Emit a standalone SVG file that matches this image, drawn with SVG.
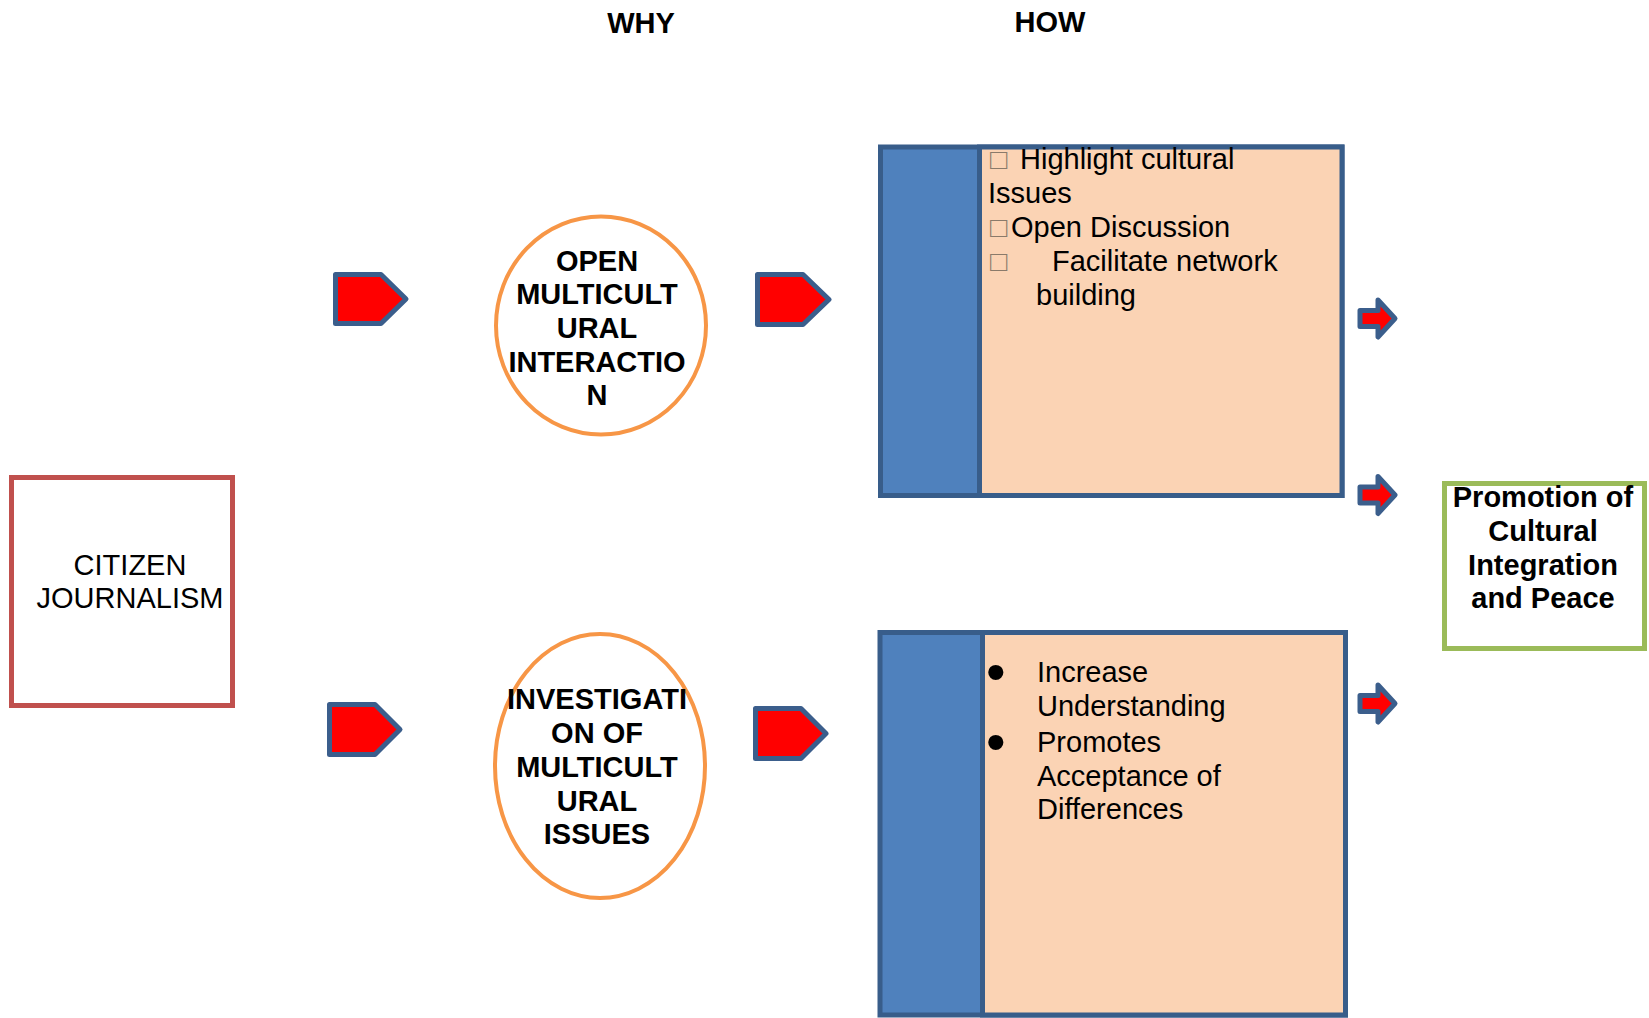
<svg xmlns="http://www.w3.org/2000/svg" width="1649" height="1018" viewBox="0 0 1649 1018">
<style>
text{font-family:"Liberation Sans",Arial,sans-serif;fill:#000}
.t{font-size:29px}
.b{font-size:29px;font-weight:bold}
.h{font-size:29px;font-weight:bold}
.c{text-anchor:middle}
.bul{font-size:56px}
.tofu{fill:#8a7a6a}
.pent{fill:#ff0000;stroke:#3b5e8c;stroke-width:5;stroke-linejoin:round}
.arr{fill:#ff0000;stroke:#3b5e8c;stroke-width:5;stroke-linejoin:round}
.blue{fill:#4f81bd;stroke:#385d8a;stroke-width:5}
.peach{fill:#fbd3b4;stroke:#385d8a;stroke-width:5}
.oval{fill:#fff;stroke:#f79646;stroke-width:4}
</style>
<rect width="1649" height="1018" fill="#fff"/>
<g id="headers">
<text class="h c" x="641" y="33">WHY</text>
<text class="h c" x="1050" y="32">HOW</text>
</g>
<g id="citizen-journalism">
<rect x="11.5" y="477.5" width="221" height="228" fill="#fff" stroke="#c0504d" stroke-width="5"/>
<text class="t c" x="130" y="575">CITIZEN</text>
<text class="t c" x="130" y="608">JOURNALISM</text>
</g>
<g id="open-multicultural">
<ellipse class="oval" cx="601" cy="325.5" rx="105" ry="109"/>
<text class="b c" x="597" y="271">OPEN</text>
<text class="b c" x="597" y="304">MULTICULT</text>
<text class="b c" x="597" y="338">URAL</text>
<text class="b c" x="597" y="372">INTERACTIO</text>
<text class="b c" x="597" y="405">N</text>
</g>
<g id="investigation">
<ellipse class="oval" cx="600" cy="766" rx="105" ry="132"/>
<text class="b c" x="597" y="709">INVESTIGATI</text>
<text class="b c" x="597" y="743">ON OF</text>
<text class="b c" x="597" y="777">MULTICULT</text>
<text class="b c" x="597" y="811">URAL</text>
<text class="b c" x="597" y="844">ISSUES</text>
</g>
<g id="how-top">
<rect class="blue" x="880.5" y="147" width="461.5" height="348.5"/>
<rect class="peach" x="979.5" y="147" width="362.5" height="348.5"/>
<text class="t"><tspan class="tofu" x="990" y="169">□</tspan><tspan x="1020" y="169">Highlight cultural</tspan></text>
<text class="t" x="988" y="203">Issues</text>
<text class="t"><tspan class="tofu" x="990" y="237">□</tspan><tspan x="1011" y="237">Open Discussion</tspan></text>
<text class="t"><tspan class="tofu" x="990" y="271">□</tspan><tspan x="1052" y="271">Facilitate network</tspan></text>
<text class="t" x="1036" y="305">building</text>
</g>
<g id="how-bottom">
<rect class="blue" x="880" y="632.5" width="465.5" height="382.5"/>
<rect class="peach" x="982.5" y="632.5" width="363" height="382.5"/>
<text class="bul" x="986" y="691">•</text>
<text class="t" x="1037" y="682">Increase</text>
<text class="t" x="1037" y="716">Understanding</text>
<text class="bul" x="986" y="761">•</text>
<text class="t" x="1037" y="752">Promotes</text>
<text class="t" x="1037" y="786">Acceptance of</text>
<text class="t" x="1037" y="819">Differences</text>
</g>
<g id="promotion">
<rect x="1444.5" y="483.5" width="200" height="165" fill="#fff" stroke="#9bbb59" stroke-width="5"/>
<text class="b c" x="1543" y="507">Promotion of</text>
<text class="b c" x="1543" y="541">Cultural</text>
<text class="b c" x="1543" y="575">Integration</text>
<text class="b c" x="1543" y="608">and Peace</text>
</g>
<g id="connectors">
<path class="pent" d="M335.5,274.5 H381 L406,299 L381,323.5 H335.5 Z"/>
<path class="pent" d="M757.5,274.5 H803 L829,299.5 L803,324.5 H757.5 Z"/>
<path class="pent" d="M329.5,704.5 H375 L400,729.5 L375,754.5 H329.5 Z"/>
<path class="pent" d="M755.5,708.5 H801 L826,733.5 L801,758.5 H755.5 Z"/>
<path class="arr" d="M1360,310.5 H1378 V300 L1395,318.5 L1378,337 V326.5 H1360 Z"/>
<path class="arr" d="M1360,487 H1378 V476.5 L1395,495 L1378,513.5 V503 H1360 Z"/>
<path class="arr" d="M1360,695.5 H1378 V685 L1395,703.5 L1378,722 V711.5 H1360 Z"/>
</g>
</svg>
